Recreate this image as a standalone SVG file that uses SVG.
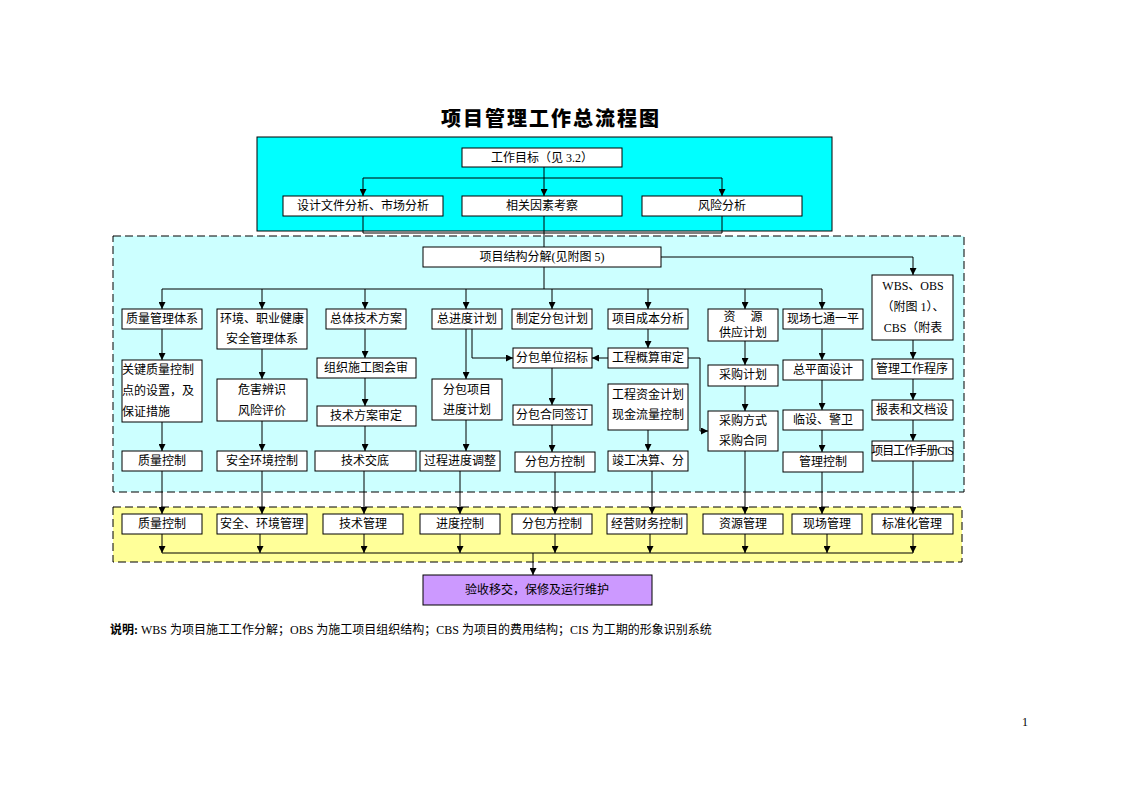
<svg xmlns="http://www.w3.org/2000/svg" width="1123" height="794" viewBox="0 0 1123 794">
<defs>
<marker id="a" viewBox="0 0 10 10" refX="10" refY="5" markerWidth="7" markerHeight="7" markerUnits="userSpaceOnUse" orient="auto"><path d="M0,0L10,5L0,10z" fill="#000"/></marker>
<style>
.b{fill:#fff;stroke:#000;stroke-width:1}
.t{font-family:"Liberation Serif","Noto Sans CJK SC",serif;font-size:12px;text-anchor:middle;dominant-baseline:central;fill:#000}
.c path{fill:none;stroke:#000;stroke-width:1}
.ar{marker-end:url(#a)}
</style>
</defs>
<rect width="1123" height="794" fill="#fff"/>
<text x="551" y="117" font-family="Noto Sans CJK SC,sans-serif" font-size="20" font-weight="900" text-anchor="middle" dominant-baseline="central" letter-spacing="2">项目管理工作总流程图</text>
<rect x="257" y="137" width="575" height="94" fill="#00FFFF" stroke="#000"/>
<rect x="113" y="236" width="851" height="256" fill="#CCFFFF" stroke="#000" stroke-dasharray="8,4"/>
<rect x="113" y="507" width="849" height="55" fill="#FFFF99" stroke="#000" stroke-dasharray="8,4"/>

<g class="c">
<path d="M544,167V178M363,178H722"/>
<path class="ar" d="M363,178V196"/><path class="ar" d="M544,178V196"/><path class="ar" d="M722,178V196"/>
<path d="M363,216V233H722V216M544,216V247"/>
<path class="ar" d="M661,257H913V275"/>
<path d="M544,267V289M162,289H822"/>
<path class="ar" d="M162,289V309"/><path class="ar" d="M262,289V309"/><path class="ar" d="M365,289V309"/><path class="ar" d="M466,289V309"/><path class="ar" d="M552,289V309"/><path class="ar" d="M648,289V309"/><path class="ar" d="M745,289V309"/><path class="ar" d="M822,289V309"/>
<path class="ar" d="M162,329V360"/><path class="ar" d="M162,422V451"/>
<path class="ar" d="M262,349V379"/><path class="ar" d="M262,421V451"/>
<path class="ar" d="M365,329V358"/><path class="ar" d="M365,378V406"/><path class="ar" d="M365,426V451"/>
<path class="ar" d="M466,329V379"/><path class="ar" d="M472,329V358H513"/><path class="ar" d="M466,420V451"/>
<path class="ar" d="M552,368V405"/><path class="ar" d="M552,425V452"/>
<path class="ar" d="M648,329V348"/><path class="ar" d="M608,358H592"/><path class="ar" d="M688,358H700V431H708"/><path class="ar" d="M648,430V451"/>
<path class="ar" d="M745,341V365"/><path class="ar" d="M745,386V411"/>
<path class="ar" d="M822,329V360"/><path class="ar" d="M822,380V410"/><path class="ar" d="M822,430V452"/>
<path class="ar" d="M913,340V359"/><path class="ar" d="M913,379V400"/><path class="ar" d="M913,420V441"/>
<path class="ar" d="M162,471V514"/><path class="ar" d="M262,471V514"/><path class="ar" d="M364,471V514"/><path class="ar" d="M460,471V514"/><path class="ar" d="M555,472V514"/><path class="ar" d="M652,471V514"/><path class="ar" d="M745,451V514"/><path class="ar" d="M822,472V514"/><path class="ar" d="M913,461V514"/>
<path d="M162,553H913"/>
<path class="ar" d="M162,534V553"/><path class="ar" d="M260,534V553"/><path class="ar" d="M364,534V553"/><path class="ar" d="M460,534V553"/><path class="ar" d="M555,534V553"/><path class="ar" d="M650,534V553"/><path class="ar" d="M745,534V553"/><path class="ar" d="M827,534V553"/><path class="ar" d="M913,534V553"/>
<path class="ar" d="M533,553V575"/>
</g>

<g id="n1"><rect class="b" x="462" y="148" width="160" height="19"/><text class="t" x="542" y="158" font-size="13">工作目标（见 3.2）</text></g>
<g id="n2"><rect class="b" x="283" y="196" width="160" height="20"/><text class="t" x="363" y="206" font-size="13">设计文件分析、市场分析</text></g>
<g id="n3"><rect class="b" x="462" y="196" width="160" height="20"/><text class="t" x="542" y="206" font-size="13">相关因素考察</text></g>
<g id="n4"><rect class="b" x="642" y="196" width="160" height="20"/><text class="t" x="722" y="206" font-size="13">风险分析</text></g>
<g id="n5"><rect class="b" x="423" y="247" width="238" height="20"/><text class="t" x="542" y="257" font-size="13">项目结构分解(见附图 5)</text></g>
<g id="n6"><rect class="b" x="872" y="275" width="81" height="65"/><text class="t" x="913" y="286">WBS、OBS</text><text class="t" x="913" y="307">（附图 1）、</text><text class="t" x="913" y="328">CBS（附表</text></g>

<g id="r1a"><rect class="b" x="122" y="309" width="80" height="20"/><text class="t" x="162" y="319">质量管理体系</text></g>
<g id="r1b"><rect class="b" x="217" y="309" width="90" height="40"/><text class="t" x="262" y="319">环境、职业健康</text><text class="t" x="262" y="339">安全管理体系</text></g>
<g id="r1c"><rect class="b" x="326" y="309" width="80" height="20"/><text class="t" x="366" y="319">总体技术方案</text></g>
<g id="r1d"><rect class="b" x="432" y="309" width="70" height="20"/><text class="t" x="467" y="319">总进度计划</text></g>
<g id="r1e"><rect class="b" x="512" y="309" width="80" height="20"/><text class="t" x="552" y="319">制定分包计划</text></g>
<g id="r1f"><rect class="b" x="608" y="309" width="80" height="20"/><text class="t" x="648" y="319">项目成本分析</text></g>
<g id="r1g"><rect class="b" x="708" y="309" width="70" height="32"/><text class="t" x="743" y="317" xml:space="preserve">资　 源</text><text class="t" x="743" y="333">供应计划</text></g>
<g id="r1h"><rect class="b" x="783" y="309" width="80" height="20"/><text class="t" x="823" y="319">现场七通一平</text></g>

<g id="r2a"><rect class="b" x="122" y="360" width="80" height="62"/><text class="t" x="122" y="370" text-anchor="start" style="text-anchor:start">关键质量控制</text><text class="t" x="122" y="391" style="text-anchor:start">点的设置，及</text><text class="t" x="122" y="412" style="text-anchor:start">保证措施</text></g>
<g id="r2b"><rect class="b" x="217" y="379" width="90" height="42"/><text class="t" x="262" y="390">危害辨识</text><text class="t" x="262" y="411">风险评价</text></g>
<g id="r2c"><rect class="b" x="317" y="358" width="99" height="20"/><text class="t" x="366" y="368">组织施工图会审</text></g>
<g id="r2d"><rect class="b" x="432" y="379" width="70" height="41"/><text class="t" x="467" y="390">分包项目</text><text class="t" x="467" y="410">进度计划</text></g>
<g id="r2e"><rect class="b" x="513" y="348" width="79" height="20"/><text class="t" x="552" y="358">分包单位招标</text></g>
<g id="r2f"><rect class="b" x="608" y="348" width="80" height="20"/><text class="t" x="648" y="358">工程概算审定</text></g>
<g id="r2g"><rect class="b" x="708" y="365" width="70" height="21"/><text class="t" x="743" y="375">采购计划</text></g>
<g id="r2h"><rect class="b" x="783" y="360" width="80" height="20"/><text class="t" x="823" y="370">总平面设计</text></g>
<g id="r2i"><rect class="b" x="872" y="359" width="81" height="20"/><text class="t" x="912" y="369">管理工作程序</text></g>

<g id="r3a"><rect class="b" x="317" y="406" width="99" height="20"/><text class="t" x="366" y="416">技术方案审定</text></g>
<g id="r3b"><rect class="b" x="513" y="405" width="79" height="20"/><text class="t" x="552" y="415">分包合同签订</text></g>
<g id="r3c"><rect class="b" x="608" y="384" width="80" height="46"/><text class="t" x="648" y="395">工程资金计划</text><text class="t" x="648" y="415">现金流量控制</text></g>
<g id="r3d"><rect class="b" x="708" y="411" width="70" height="40"/><text class="t" x="743" y="421">采购方式</text><text class="t" x="743" y="441">采购合同</text></g>
<g id="r3e"><rect class="b" x="783" y="410" width="80" height="20"/><text class="t" x="823" y="420">临设、警卫</text></g>
<g id="r3f"><rect class="b" x="872" y="400" width="81" height="20"/><text class="t" x="912" y="410">报表和文档设</text></g>
<g id="r3g"><rect class="b" x="872" y="441" width="81" height="20"/><text class="t" x="912" y="451" letter-spacing="-1">项目工作手册CIS</text></g>

<g id="r4a"><rect class="b" x="122" y="451" width="80" height="20"/><text class="t" x="162" y="461">质量控制</text></g>
<g id="r4b"><rect class="b" x="217" y="451" width="90" height="20"/><text class="t" x="262" y="461">安全环境控制</text></g>
<g id="r4c"><rect class="b" x="315" y="451" width="101" height="20"/><text class="t" x="365" y="461">技术交底</text></g>
<g id="r4d"><rect class="b" x="420" y="451" width="80" height="20"/><text class="t" x="460" y="461">过程进度调整</text></g>
<g id="r4e"><rect class="b" x="515" y="452" width="80" height="20"/><text class="t" x="555" y="462">分包方控制</text></g>
<g id="r4f"><rect class="b" x="608" y="451" width="80" height="20"/><text class="t" x="648" y="461">竣工决算、分</text></g>
<g id="r4g"><rect class="b" x="783" y="452" width="80" height="20"/><text class="t" x="823" y="462">管理控制</text></g>

<g id="y1"><rect class="b" x="122" y="514" width="80" height="20"/><text class="t" x="162" y="524">质量控制</text></g>
<g id="y2"><rect class="b" x="217" y="514" width="90" height="20"/><text class="t" x="262" y="524">安全、环境管理</text></g>
<g id="y3"><rect class="b" x="323" y="514" width="80" height="20"/><text class="t" x="363" y="524">技术管理</text></g>
<g id="y4"><rect class="b" x="420" y="514" width="80" height="20"/><text class="t" x="460" y="524">进度控制</text></g>
<g id="y5"><rect class="b" x="512" y="514" width="80" height="20"/><text class="t" x="552" y="524">分包方控制</text></g>
<g id="y6"><rect class="b" x="607" y="514" width="80" height="20"/><text class="t" x="647" y="524">经营财务控制</text></g>
<g id="y7"><rect class="b" x="703" y="514" width="80" height="20"/><text class="t" x="743" y="524">资源管理</text></g>
<g id="y8"><rect class="b" x="792" y="514" width="70" height="20"/><text class="t" x="827" y="524">现场管理</text></g>
<g id="y9"><rect class="b" x="872" y="514" width="81" height="20"/><text class="t" x="912" y="524">标准化管理</text></g>

<g id="end"><rect x="423" y="575" width="229" height="30" fill="#CC99FF" stroke="#000"/><text class="t" x="537" y="590">验收移交，保修及运行维护</text></g>

<text x="110" y="630" font-family="Liberation Serif,Noto Sans CJK SC,serif" font-size="12" dominant-baseline="central"><tspan font-weight="bold">说明:</tspan> WBS 为项目施工工作分解；OBS 为施工项目组织结构；CBS 为项目的费用结构；CIS 为工期的形象识别系统</text>
<text x="1022" y="722" font-family="Liberation Serif,serif" font-size="12" dominant-baseline="central">1</text>
</svg>
